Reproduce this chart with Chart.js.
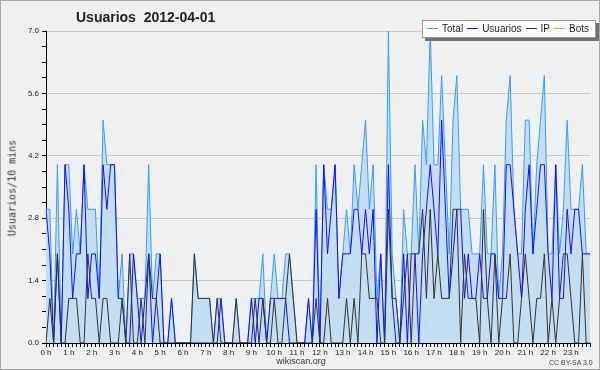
<!DOCTYPE html>
<html>
<head>
<meta charset="utf-8">
<script src="https://cdn.jsdelivr.net/npm/chart.js@4/dist/chart.umd.min.js"></script>
<style>
  html, body { margin: 0; padding: 0; background: #f0f0f0; }
  #wrap { position: relative; width: 600px; height: 370px; box-sizing: border-box; border: 1px solid #a8a8a8; background: #f0f0f0; overflow: hidden; }
  #chart { position: absolute; left: -1px; top: -1px; }
  .txt { position: absolute; white-space: nowrap; color: #222; }
  #title { left: 75px; top: 8px; font: bold 14px "Liberation Sans", sans-serif; }
  #ylabel { left: 11px; top: 187px; font: 10px "DejaVu Sans Mono", monospace; color: #333; transform: translate(-50%, -50%) rotate(-90deg); }
  #site { left: 300px; top: 355px; font: 9px "Liberation Sans", sans-serif; transform: translateX(-50%); color: #333; }
  #lic { left: 548px; top: 358px; font: 7px "Liberation Sans", sans-serif; color: #444; }
  #legend { position: absolute; left: 421px; top: 19px; width: 172px; height: 16px; background: #fff; border: 1px solid #999; box-shadow: 3px 3px 0 #707070; font: 10px "Liberation Sans", sans-serif; color: #222; line-height: 16px; }
  #legend span.ln { display: inline-block; width: 11px; height: 0; border-top: 1px solid; margin: 0 4px 0 4px; vertical-align: 3px; }
</style>
</head>
<body>
<div id="wrap">
  <canvas id="chart" width="600" height="370"></canvas>
  <div class="txt" id="title">Usuarios&nbsp;&nbsp;2012-04-01</div>
  <div class="txt" id="ylabel">Usuarios/10 mins</div>
  <div class="txt" id="site">wikiscan.org</div>
  <div class="txt" id="lic">CC BY-SA 3.0</div>
  <div id="legend"><span class="ln" style="border-color:#3a9cf4"></span>Total<span class="ln" style="border-color:#1010ff"></span>Usuarios<span class="ln" style="border-color:#333"></span>IP<span class="ln" style="border-color:#ff9c1a"></span>Bots</div>
</div>
<script>
// one value every 10 minutes, 144 per day
const hourLabels = ['0 h', '1 h', '2 h', '3 h', '4 h', '5 h', '6 h', '7 h', '8 h', '9 h', '10 h', '11 h',
  '12 h', '13 h', '14 h', '15 h', '16 h', '17 h', '18 h', '19 h', '20 h', '21 h', '22 h', '23 h'];

const total = [
  3,3,0,4,0,4,4,2,3,2,4,3, 3,3,1,5,4,4,4,1,2,0,2,2,
  1,1,1,4,1,2,2,0,0,1,0,0, 0,0,0,2,1,1,1,1,0,1,1,0,
  0,0,1,0,0,0,1,1,1,2,0,1, 2,1,1,2,2,1,0,0,0,1,0,4,
  0,4,3,3,4,1,2,3,2,4,3,4, 5,3,4,1,2,0,7,2,1,0,3,2,
  2,4,2,5,4,7,4,4,6,4,2,5, 6,3,3,3,2,2,2,4,2,2,4,1,
  2,5,6,3,2,2,5,5,2,4,5,6, 2,2,4,2,3,5,3,3,3,4,2,2
];
const usuarios = [
  3,2,0,2,0,4,3,1,2,2,4,1, 2,2,1,4,3,4,4,1,1,0,0,2,
  1,0,1,2,0,1,2,0,0,1,0,0, 0,0,0,0,0,0,0,0,0,0,1,0,
  0,0,0,0,0,0,1,0,1,1,0,1, 1,1,1,1,0,0,0,0,0,1,0,3,
  0,4,2,3,4,1,2,2,2,3,3,2, 3,2,3,0,2,0,4,1,0,0,2,0,
  2,2,0,2,3,4,3,2,5,3,1,2, 3,3,1,2,1,1,2,1,1,2,2,1,
  1,4,4,3,2,1,3,4,2,3,4,4, 2,1,4,1,1,3,2,3,3,2,2,2
];
const ip = [
  0,1,0,2,0,0,1,1,1,0,0,2, 1,1,0,1,1,0,0,0,1,0,2,0,
  0,1,0,2,1,1,0,0,0,0,0,0, 0,0,0,2,1,1,1,1,0,1,0,0,
  0,0,1,0,0,0,0,1,0,1,0,0, 1,0,0,1,2,1,0,0,0,0,0,1,
  0,0,1,0,0,0,0,1,0,1,0,2, 2,1,1,1,0,0,3,1,1,0,1,2,
  0,2,2,3,1,3,1,2,1,1,1,3, 3,0,2,1,1,1,0,3,1,0,2,0,
  1,1,2,0,0,1,2,1,0,1,1,2, 0,1,0,1,2,2,1,0,0,2,0,0
];
const bots = [
  0,0,0,0,0,0,0,0,0,0,0,0, 0,0,0,0,0,0,0,0,0,0,0,0,
  0,0,0,0,0,0,0,0,0,0,0,0, 0,0,0,0,0,0,0,0,0,0,0,0,
  0,0,0,0,0,0,0,0,0,0,0,0, 0,0,0,0,0,0,0,0,0,0,0,0,
  0,0,0,0,0,0,0,0,0,0,0,0, 0,0,0,0,0,0,0,0,0,0,0,0,
  0,0,0,0,0,0,0,0,0,0,0,0, 0,0,0,0,0,0,0,0,0,0,0,0,
  0,0,0,0,0,0,0,0,0,0,0,0, 0,0,0,0,0,0,0,0,0,0,0,0
];

const labels = total.map((v, i) => i);

function isMajor(v) {
  const r = v / 1.4;
  return Math.abs(r - Math.round(r)) < 1e-6;
}

// plot area background
const plotBg = {
  id: 'plotBg',
  beforeDraw(chart) {
    const a = chart.chartArea;
    const ctx = chart.ctx;
    ctx.save();
    ctx.fillStyle = '#eef0f2';
    ctx.fillRect(a.left, a.top, a.right - a.left, a.bottom - a.top);
    ctx.restore();
  }
};

Chart.defaults.font.family = 'Liberation Sans';
Chart.defaults.font.size = 8;
Chart.defaults.color = '#222';

const line = (label, data, color, extra) => Object.assign({
  label, data,
  borderColor: color,
  borderWidth: 1,
  pointRadius: 0,
  tension: 0,
  fill: false
}, extra);

new Chart(document.getElementById('chart'), {
  type: 'line',
  data: {
    labels: labels,
    datasets: [
      line('IP', ip, '#333333', { order: 0 }),
      line('Usuarios', usuarios, '#1010ff', { order: 1 }),
      line('Bots', bots, '#ff9c1a', { order: 3 }),
      line('Total', total, '#3a9cf4', { order: 2, fill: 'origin', backgroundColor: 'rgba(197,221,240,1)' })
    ]
  },
  options: {
    responsive: false,
    animation: false,
    plugins: { legend: { display: false }, tooltip: { enabled: false } },
    layout: { padding: { top: 31, left: 10, right: 10, bottom: 0 } },
    scales: {
      x: {
        type: 'category',
        offset: false,
        z: 1,
        border: { color: '#000', width: 1 },
        grid: { drawOnChartArea: false, color: '#000', tickColor: '#000', tickLength: 4 },
        ticks: {
          autoSkip: false, maxRotation: 0, minRotation: 0, padding: 1,
          callback: (v, i) => (i % 6 === 0 ? hourLabels[i / 6] : '')
        },
        afterFit: s => { s.height = 27; }
      },
      y: {
        min: 0, max: 7,
        z: 1,
        border: { color: '#000', width: 1 },
        grid: {
          color: c => (isMajor(c.tick.value) ? '#c8c8c8' : 'rgba(0,0,0,0)'),
          tickColor: '#000',
          tickLength: 4
        },
        ticks: {
          stepSize: 0.35, padding: 3, autoSkip: false,
          callback: v => (isMajor(v) ? v.toFixed(1) : '')
        },
        afterFit: s => { s.width = 36; }
      }
    }
  },
  plugins: [plotBg]
});
</script>
</body>
</html>
